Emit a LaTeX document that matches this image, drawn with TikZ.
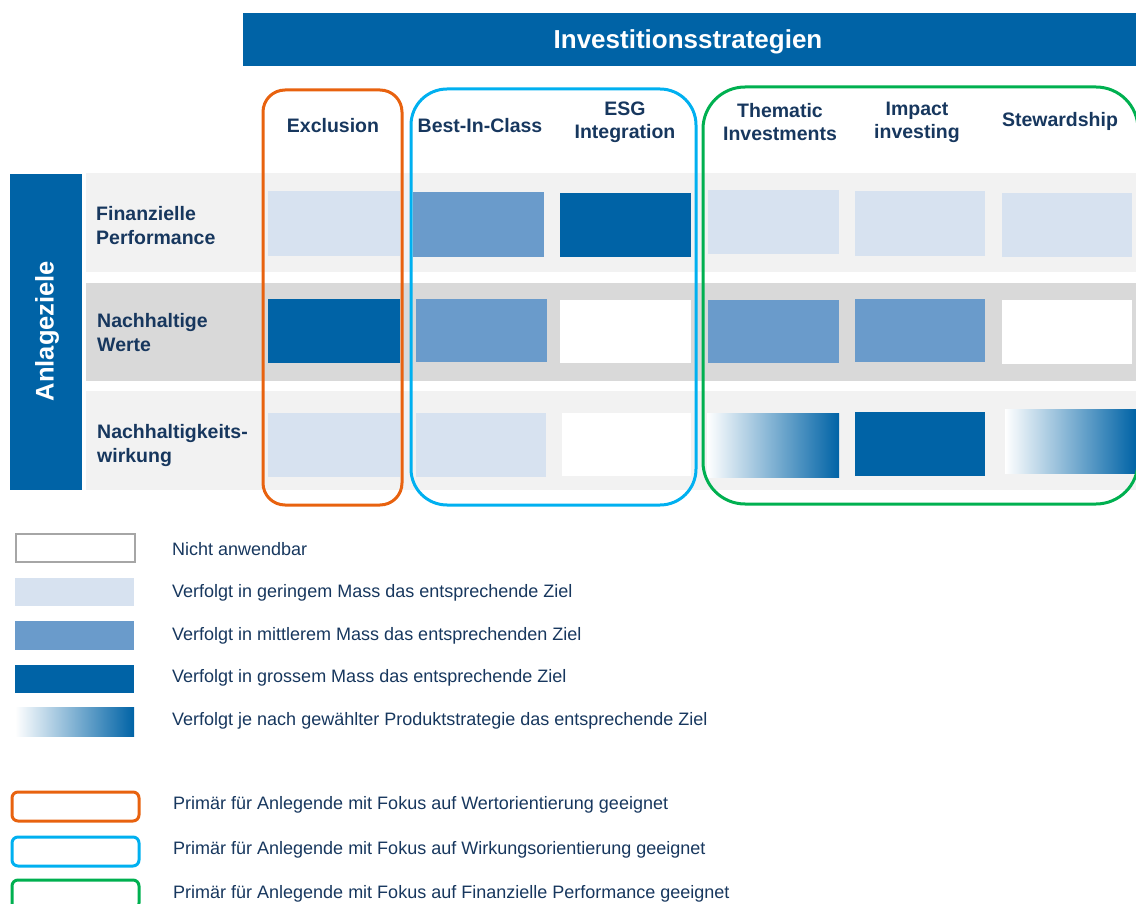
\documentclass[tikz,border=0pt]{standalone}
\usepackage{fontspec}
\setmainfont{Liberation Sans}
\definecolor{dkblue}{HTML}{0063A6}
\definecolor{mdblue}{HTML}{6A9BCB}
\definecolor{ltblue}{HTML}{D7E2F0}
\definecolor{rowlt}{HTML}{F2F2F2}
\definecolor{rowdk}{HTML}{D9D9D9}
\definecolor{navy}{HTML}{17375E}
\definecolor{orangeC}{HTML}{E8620F}
\definecolor{cyanC}{HTML}{00B0F0}
\definecolor{greenC}{HTML}{00B050}
\definecolor{grayB}{HTML}{A6A6A6}
\tikzset{
  lt/.style={fill=ltblue},
  md/.style={fill=mdblue},
  dk/.style={fill=dkblue},
  wh/.style={fill=white},
  gr/.style={left color=white, right color=dkblue},
  hdr/.style={font=\fontsize{19.5}{23}\selectfont\bfseries, text=navy, align=center, inner sep=0pt},
  rowlab/.style={font=\fontsize{19.5}{24}\selectfont\bfseries, text=navy, align=left, anchor=west, inner sep=0pt},
  legtext/.style={font=\fontsize{18}{21}\selectfont, text=navy, anchor=west, inner sep=0pt},
  frame/.style={line width=3pt},
}
\begin{document}
\begin{tikzpicture}[x=1pt,y=-1pt]
\useasboundingbox (0,0) rectangle (1136,904);
% title bar
\fill[dkblue] (243,13) rectangle (1136,66);
\node[font=\fontsize{26}{30}\selectfont\bfseries, text=white, inner sep=0pt] (title) at (688,42) {Investitionsstrategien};
% left bar
\fill[dkblue] (10,174) rectangle (82,490);
\node[rotate=90, font=\fontsize{25.5}{30}\selectfont\bfseries, text=white, inner sep=0pt] (anlage) at (47,331) {Anlageziele};
% row backgrounds
\fill[rowlt] (86,173) rectangle (1136,272);
\fill[rowdk] (86,283) rectangle (1136,381);
\fill[rowlt] (86,391) rectangle (1136,490);
% row labels
\node[rowlab] (r1) at (96,226) {Finanzielle\\Performance};
\node[rowlab] (r2) at (97,333) {Nachhaltige\\Werte};
\node[rowlab] (r3) at (97,445) {Nachhaltigkeits-\\wirkung};
% column headers
\node[hdr] (c1) at (333,126) {Exclusion};
\node[hdr] (c2) at (480,126) {Best-In-Class};
\node[hdr] (c3) at (625,122) {ESG\\Integration};
\node[hdr] (c4) at (780,122) {Thematic\\Investments};
\node[hdr] (c5) at (917,122) {Impact\\investing};
\node[hdr] (c6) at (1060,121) {Stewardship};
% row 1 cells
\fill[lt] (268,191) rectangle (400,256);
\fill[md] (413,192) rectangle (544,257);
\fill[dk] (560,193) rectangle (691,257);
\fill[lt] (708,190) rectangle (839,254);
\fill[lt] (855,191) rectangle (985,256);
\fill[lt] (1002,193) rectangle (1132,257);
% row 2 cells
\fill[dk] (268,299) rectangle (400,363);
\fill[md] (416,299) rectangle (547,362);
\fill[wh] (560,300) rectangle (691,363);
\fill[md] (708,300) rectangle (839,363);
\fill[md] (855,299) rectangle (985,362);
\fill[wh] (1002,300) rectangle (1132,364);
% row 3 cells
\fill[lt] (268,413) rectangle (400,477);
\fill[lt] (416,413) rectangle (546,477);
\fill[wh] (562,413) rectangle (691,476);
\shade[gr] (707,413) rectangle (839,477);
\fill[dk] (855,412) rectangle (985,476);
\shade[gr] (1005,409) rectangle (1136,473);
% group frames
\draw[frame, orangeC, rounded corners=22pt] (263,90) rectangle (402,505);
\draw[frame, cyanC, rounded corners=36pt] (411,89) rectangle (696,505);
\draw[frame, greenC, rounded corners=42pt] (703,87) rectangle (1138,504);
% legend
\draw[grayB, line width=2pt, fill=white] (16,534) rectangle (135,562);
\node[legtext] (l1) at (172,549) {Nicht anwendbar};
\fill[lt] (15,578) rectangle (134,606);
\node[legtext] (l2) at (172,593) {Verfolgt in geringem Mass das entsprechende Ziel};
\fill[md] (15,621) rectangle (134,650);
\node[legtext] (l3) at (172,636) {Verfolgt in mittlerem Mass das entsprechenden Ziel};
\fill[dk] (15,665) rectangle (134,693);
\node[legtext] (l4) at (172,678) {Verfolgt in grossem Mass das entsprechende Ziel};
\shade[gr] (15,707) rectangle (134,736);
\node[legtext] (l5) at (172,721) {Verfolgt je nach gewählter Produktstrategie das entsprechende Ziel};
\draw[frame, orangeC, rounded corners=6pt] (12,792) rectangle (139,821);
\node[legtext] (l6) at (173,805) {Primär für Anlegende mit Fokus auf Wertorientierung geeignet};
\draw[frame, cyanC, rounded corners=6pt] (12,837) rectangle (139,866);
\node[legtext] (l7) at (173,850) {Primär für Anlegende mit Fokus auf Wirkungsorientierung geeignet};
\draw[frame, greenC, rounded corners=6pt] (12,880) rectangle (139,909);
\node[legtext] (l8) at (173,894) {Primär für Anlegende mit Fokus auf Finanzielle Performance geeignet};
\end{tikzpicture}
\end{document}
